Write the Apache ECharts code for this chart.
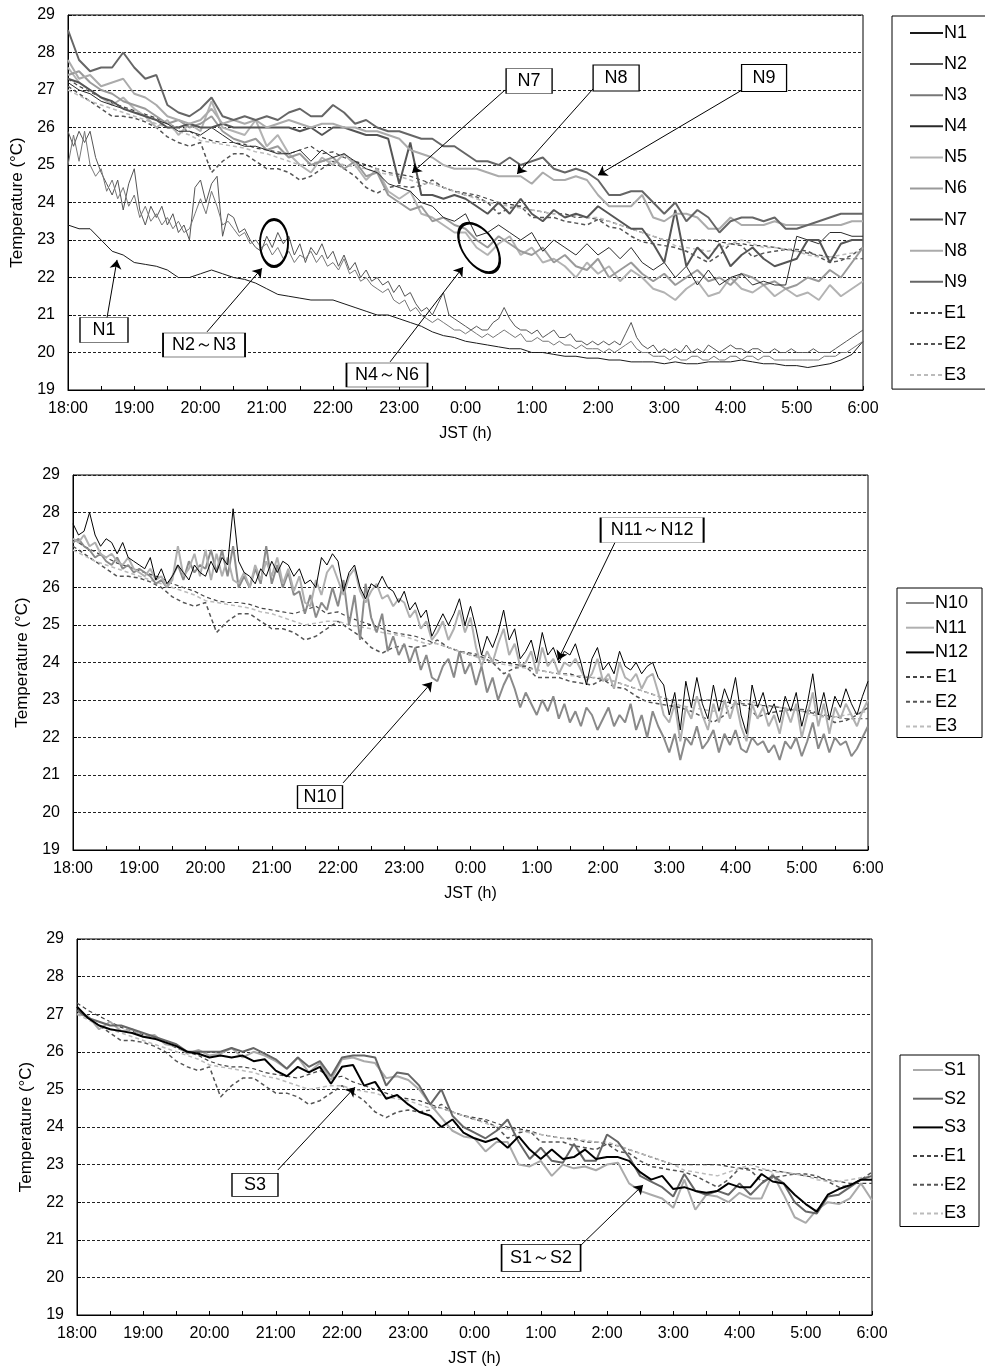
<!DOCTYPE html>
<html>
<head>
<meta charset="utf-8">
<script src="https://cdn.jsdelivr.net/npm/echarts@6.0.0/dist/echarts.min.js"></script>
<style>
html, body { margin: 0; padding: 0; background: #fff; }
#main { width: 985px; height: 1369px; }
</style>
</head>
<body>
<div id="main"></div>
<script>
// minutes after 18:00; 10-min series have 73 points, 5-min series 145
var yTicks = [19, 20, 21, 22, 23, 24, 25, 26, 27, 28, 29];

var E1 = [
  27.3, 27.1, 26.95, 26.8, 26.65, 26.55,
  26.45, 26.35, 26.25, 26.1, 26.0, 25.9,
  25.75, 25.65, 25.6, 25.6, 25.55, 25.45,
  25.4, 25.35, 25.3, 25.4, 25.5, 25.3,
  25.35, 25.2, 25.1, 25.0, 24.9, 24.8,
  24.75, 24.7, 24.6, 24.5, 24.4, 24.3,
  24.25, 24.2, 24.1, 24.0, 23.95, 23.9,
  23.8, 23.75, 23.7, 23.7, 23.6, 23.6,
  23.55, 23.5, 23.4, 23.3, 23.2, 23.1,
  23.0, 23.0, 23.0, 23.0, 23.0, 22.95,
  22.9, 22.9, 22.85, 22.85, 22.8, 22.75,
  22.7, 22.65, 22.6, 22.55, 22.5, 22.5,
  22.5];
var E2 = [
  27.1, 26.9, 26.7, 26.5, 26.3, 26.3,
  26.25, 26.15, 26.0, 25.75, 25.6, 25.5,
  25.6, 24.8, 25.1, 25.3, 25.3, 25.1,
  24.9, 24.9, 24.8, 24.6, 24.7, 24.9,
  25.1, 24.9, 24.7, 24.4, 24.25, 24.4,
  24.45, 24.4, 24.45, 24.6, 24.4, 24.3,
  24.2, 24.15, 24.0, 23.7, 23.85, 23.9,
  23.6, 23.6, 23.6, 23.5, 23.45, 23.4,
  23.55, 23.35, 23.3, 23.1, 22.95, 22.9,
  22.85, 22.8, 22.7, 22.55, 22.4, 22.6,
  22.9, 22.85, 22.55, 22.65, 22.7, 22.75,
  22.75, 22.7, 22.55, 22.4, 22.45, 22.6,
  22.8];
var E3 = [
  27.0, 26.85, 26.7, 26.6, 26.5, 26.4,
  26.3, 26.2, 26.1, 26.0, 25.9, 25.8,
  25.65, 25.6, 25.55, 25.5, 25.45, 25.35,
  25.3, 25.2, 25.1, 25.0, 25.05, 25.1,
  25.1, 25.0, 24.95, 24.9, 24.8, 24.75,
  24.7, 24.6, 24.5, 24.5, 24.4, 24.3,
  24.2, 24.1, 24.0, 23.95, 23.9, 23.85,
  23.8, 23.75, 23.7, 23.65, 23.65, 23.6,
  23.6, 23.5, 23.4, 23.3, 23.2, 23.1,
  23.0, 22.85, 22.8, 22.75, 22.7, 22.8,
  22.9, 23.0, 22.9, 22.8, 22.8, 22.75,
  22.7, 22.6, 22.55, 22.55, 22.6, 22.65,
  22.7];

var N1 = [
  23.4, 23.3, 23.3, 23.0, 22.7, 22.6,
  22.4, 22.35, 22.3, 22.2, 22.0, 22.0,
  22.1, 22.2, 22.1, 22.0, 21.95, 21.85,
  21.7, 21.55, 21.5, 21.45, 21.4, 21.4,
  21.4, 21.3, 21.2, 21.1, 21.0, 21.0,
  20.9, 20.8, 20.7, 20.55, 20.45, 20.4,
  20.3, 20.25, 20.2, 20.15, 20.1, 20.1,
  20.0, 20.0, 19.95, 19.9, 19.9, 19.85,
  19.85, 19.8, 19.8, 19.75, 19.75, 19.75,
  19.7, 19.75, 19.7, 19.7, 19.75, 19.75,
  19.75, 19.8, 19.75, 19.7, 19.7, 19.65,
  19.65, 19.6, 19.65, 19.7, 19.8, 19.95,
  20.3];
var N2 = [
  25.9, 25.5, 25.9, 25.6, 25.9, 25.2, 24.8, 24.5, 24.2, 24.6, 23.8, 24.5,
  24.9, 23.8, 23.4, 23.9, 23.6, 23.9, 23.4, 23.7, 23.2, 23.4, 23.0, 24.4,
  24.6, 24.0, 24.5, 24.7, 23.1, 23.7, 23.6, 23.2, 23.3, 23.0, 22.8, 22.7,
  23.1, 22.8, 23.2, 22.9, 23.1, 22.6, 22.9, 22.4, 22.8, 22.6, 22.9, 22.5,
  22.7, 22.3, 22.6, 22.2, 22.4, 22.0, 22.2, 21.9, 22.0, 21.8, 21.9, 21.6,
  21.8, 21.5, 21.6, 21.3, 21.1, 21.2, 21.0, 21.3, 21.6, 21.0, 20.9, 20.8,
  20.7, 20.6, 20.7, 20.6, 20.6, 20.8, 20.9, 21.2, 20.9, 20.7, 20.6, 20.6,
  20.5, 20.6, 20.4, 20.5, 20.6, 20.4, 20.4, 20.5, 20.3, 20.3, 20.2, 20.3,
  20.2, 20.3, 20.2, 20.3, 20.2, 20.5, 20.8, 20.4, 20.2, 20.1, 20.2, 20.0,
  20.1, 20.0, 20.1, 20.0, 20.2, 20.0, 20.1, 20.0, 20.2, 20.1, 20.0, 20.1,
  20.2, 20.1, 20.1, 20.0, 20.1, 20.1, 20.0, 20.0, 20.1, 20.0, 20.0, 20.1,
  20.0, 20.0, 20.0, 20.1, 20.0, 20.0, 20.0, 20.1, 20.2, 20.3, 20.4, 20.5,
  20.6];
var N3 = [
  25.0, 25.8, 25.1, 25.9, 25.0, 24.7, 24.9, 24.3, 24.6, 24.1, 24.4, 23.9,
  24.2, 23.6, 23.9, 23.5, 23.7, 23.4, 23.6, 23.3, 23.5, 23.2, 23.3, 23.7,
  24.1, 23.7, 24.3, 23.9, 23.4, 23.5, 23.3, 23.1, 23.2, 22.9, 23.0, 22.8,
  22.9, 22.6, 22.8, 22.5, 22.7, 22.4, 22.6, 22.5, 22.7, 22.4, 22.6, 22.3,
  22.4, 22.2, 22.5, 22.1, 22.2, 21.9, 22.0, 21.8, 21.7, 21.6, 21.7, 21.4,
  21.3, 21.4, 21.1, 21.2, 21.0, 20.9, 20.8, 20.9, 20.8, 20.7, 20.6, 20.6,
  20.5, 20.6, 20.5, 20.4, 20.5, 20.4, 20.5, 20.6, 20.5, 20.4, 20.5, 20.3,
  20.3, 20.4, 20.3, 20.3, 20.2, 20.3, 20.2, 20.2, 20.1, 20.2, 20.1, 20.1,
  20.1, 20.0, 20.1, 20.0, 20.1, 20.2, 20.3, 20.1, 20.0, 20.0, 19.9, 19.9,
  19.9, 19.8, 19.9, 19.8, 19.8, 19.9, 19.9, 19.8, 19.8, 19.9, 19.8, 19.8,
  19.9, 19.9, 19.8, 19.9, 19.9, 19.8, 19.9, 19.9, 19.8, 19.8, 19.8, 19.8,
  19.8, 19.8, 19.8, 19.8, 19.8, 19.9, 19.9, 19.9, 20.0, 20.0, 20.1, 20.2,
  20.3];
var N4 = [
  27.2, 27.0, 26.9, 26.7, 26.6, 26.5,
  26.4, 26.3, 26.2, 26.1, 25.9, 25.9,
  25.8, 26.0, 25.8, 25.6, 25.5, 25.5,
  25.4, 25.3, 25.3, 25.4, 25.1, 25.4,
  25.2, 25.3, 25.1, 24.9, 24.8, 24.5,
  24.4, 24.3, 24.0, 23.9, 23.6, 23.5,
  23.7, 23.1, 23.2, 23.4, 23.2, 23.0,
  23.2, 22.7, 23.0, 22.8, 22.6, 22.9,
  22.6, 22.8, 22.5, 22.8, 22.4, 22.2,
  22.4, 22.0, 22.3, 21.8, 22.2, 21.8,
  22.0, 22.1, 21.8, 21.9, 21.8, 21.8,
  23.1, 23.0, 22.9, 23.2, 23.2, 23.1,
  23.1];
var N5 = [
  27.6, 27.2, 27.0, 26.8, 26.6, 26.8,
  26.5, 26.3, 26.0, 26.2, 25.8, 26.1,
  25.9, 26.7, 26.0, 25.9, 25.8, 26.2,
  25.5, 25.8, 25.3, 25.0, 24.8, 25.2,
  25.0, 25.3, 25.0, 24.6, 24.9, 24.3,
  24.1, 24.3, 23.7, 23.6, 23.4, 23.2,
  23.2, 22.8, 22.6, 22.9, 23.1, 22.6,
  22.8, 22.4, 22.5, 22.3, 22.0, 22.4,
  22.1, 22.3, 21.9, 22.2, 22.0, 21.7,
  21.6, 21.4, 21.7, 21.9, 21.5, 21.6,
  22.0, 21.7, 21.6, 21.8, 21.5, 21.7,
  21.5, 21.6, 21.4, 21.8, 21.5, 21.7,
  21.9];
var N6 = [
  27.4, 27.5, 27.2, 27.0, 26.9, 26.7,
  26.6, 26.5, 26.3, 26.1, 26.2, 26.0,
  26.1, 26.3, 25.9, 25.7, 25.6, 25.7,
  25.4, 25.5, 25.2, 25.3, 25.0, 25.1,
  25.2, 24.9, 25.1, 24.7, 24.8, 24.2,
  24.0, 23.8, 23.9, 23.5, 23.6, 23.4,
  23.3, 23.0, 22.8, 23.1, 22.9, 22.7,
  22.6, 22.8, 22.4, 22.6, 22.3, 22.2,
  22.5, 22.0, 22.2, 22.4, 22.1, 21.9,
  22.1, 21.8, 22.0, 22.2, 21.9, 22.0,
  21.8, 22.1, 22.0, 21.8, 21.9, 21.7,
  21.8, 22.0, 21.9, 22.2, 22.0, 22.4,
  22.8];
var N7 = [
  27.3, 27.2, 27.0, 26.8, 26.7, 26.5,
  26.4, 26.3, 26.2, 26.0, 26.0, 26.1,
  26.0, 26.0, 26.1, 26.0, 26.0, 26.0,
  26.0, 26.0, 26.0, 25.9, 26.0, 25.8,
  26.0, 26.0, 25.9, 25.8, 25.8, 25.7,
  24.5, 25.6, 24.2, 24.2, 24.1, 24.2,
  24.1, 23.9, 23.7, 24.0, 23.7, 24.1,
  23.7, 23.5, 23.8, 23.6, 23.7, 23.6,
  23.9, 23.7, 23.5, 23.3, 23.3, 22.9,
  22.4, 23.8, 22.3, 22.8, 22.5, 22.9,
  22.3, 22.6, 22.8, 22.5, 22.3, 22.4,
  22.5, 23.0, 23.0, 22.4, 22.9, 23.0,
  23.0];
var N8 = [
  27.8, 27.3, 27.4, 27.1, 27.2, 27.3,
  26.9, 26.8, 26.6, 26.3, 26.2, 26.1,
  26.2, 26.5, 26.1, 26.2, 26.1, 26.2,
  26.0, 26.1, 26.2, 26.1, 26.0, 26.1,
  26.1, 26.0, 26.0, 25.9, 25.9, 25.8,
  25.7, 25.4, 25.3, 25.2, 25.0, 24.9,
  24.9, 24.9, 24.8, 24.7, 24.7, 24.7,
  24.5, 24.8, 24.6, 24.6, 24.7, 24.6,
  24.2, 23.9, 23.9, 23.9, 24.2, 23.6,
  23.5, 23.7, 23.7, 23.6, 23.3, 23.3,
  23.6, 23.4, 23.4, 23.4, 23.5, 23.4,
  23.4, 23.4, 23.4, 23.4, 23.4, 23.5,
  23.5];
var N9 = [
  28.6, 27.8, 27.5, 27.6, 27.6, 28.0,
  27.6, 27.3, 27.4, 26.6, 26.4, 26.3,
  26.5, 26.8, 26.3, 26.2, 26.3, 26.2,
  26.3, 26.2, 26.4, 26.5, 26.3, 26.3,
  26.6, 26.4, 26.1, 26.2, 26.0, 25.9,
  25.9, 25.8, 25.7, 25.7, 25.5, 25.5,
  25.3, 25.1, 25.1, 25.0, 25.2, 25.0,
  25.1, 25.2, 24.9, 24.8, 24.9, 24.8,
  24.6, 24.2, 24.2, 24.3, 24.3, 24.0,
  23.7, 24.0, 23.5, 23.8, 23.6, 23.2,
  23.5, 23.6, 23.6, 23.5, 23.6, 23.3,
  23.3, 23.4, 23.5, 23.6, 23.7, 23.7,
  23.7];

var N10 = [
  27.2, 27.3, 27.1, 27.0, 26.8, 26.9, 26.7, 26.6, 26.8, 26.5, 26.6, 26.4,
  26.5, 26.4, 26.3, 26.1, 26.2, 26.0, 26.3, 26.6, 26.2, 26.7, 26.4, 26.6,
  26.5, 27.0, 26.4, 27.0, 26.3, 27.1, 26.0, 26.3, 26.0, 26.5, 26.1, 27.1,
  26.1, 26.6, 26.0, 26.4, 25.8, 25.9, 25.3, 25.8, 25.2, 25.6, 25.4, 26.0,
  25.5, 26.2, 25.0, 25.8, 24.6, 26.1, 25.2, 24.8, 25.3, 24.3, 24.7, 24.2,
  24.5, 24.0, 24.4, 23.8, 24.2, 23.6, 23.5, 23.9, 24.1, 23.6, 24.3, 23.7,
  24.0, 23.4, 23.9, 23.2, 23.6, 23.0, 23.4, 23.7, 23.3, 22.8, 23.2, 22.9,
  22.6, 23.0, 22.7, 23.1, 22.5, 22.9, 22.4, 22.7, 22.3, 22.8, 22.6, 22.2,
  22.5, 22.8, 22.3, 22.6, 22.4, 22.9, 22.2, 22.6, 22.0, 22.7, 22.3, 22.0,
  21.6, 22.1, 21.4, 22.0, 21.8, 22.3, 21.7, 21.9, 22.2, 21.6, 22.1, 21.8,
  22.2, 21.7, 21.6, 22.0, 21.8, 21.9, 21.6, 21.8, 21.4, 21.9, 21.7, 22.0,
  21.5, 21.9, 22.4, 21.7, 22.1, 21.6, 22.0, 21.8, 21.9, 21.5, 21.7, 22.0,
  22.3];
var N11 = [
  27.3, 27.2, 27.4, 27.1, 27.2, 26.9, 26.8, 26.9, 26.7, 26.6, 26.8, 26.5,
  26.4, 26.3, 26.5, 26.2, 26.3, 26.0, 26.2, 27.1, 26.3, 26.5, 26.9, 26.3,
  27.0, 26.2, 26.9, 26.3, 26.8, 26.2, 26.1, 26.4, 26.0, 26.6, 26.2, 26.7,
  26.3, 26.8, 26.1, 26.5, 25.9, 26.3, 25.6, 25.5, 26.2, 25.8, 26.4, 26.6,
  26.2, 25.8, 26.3, 26.5, 25.9, 25.6, 25.9, 26.1, 25.7, 25.8, 25.5, 25.7,
  25.6, 25.2, 25.4, 24.9, 25.1, 24.6, 24.8, 25.1, 24.6, 24.9, 25.4, 24.8,
  25.2, 24.4, 23.9, 24.3, 24.0, 24.5, 24.9, 24.2, 24.5, 23.9, 24.0, 24.3,
  23.7, 24.4, 23.9, 24.1, 23.7, 24.0, 23.9, 24.1, 23.8, 23.5, 23.7, 24.1,
  23.5, 23.7, 23.3, 24.0, 23.6, 23.5, 23.7, 23.3, 23.6, 23.7, 23.2, 22.6,
  22.4, 22.9, 21.9, 22.8, 22.5, 23.1, 22.6, 22.2, 22.9, 22.4, 23.0, 22.5,
  23.0, 22.3, 21.9, 22.9, 22.5, 22.8, 22.3, 22.6, 22.1, 22.8, 22.4, 22.9,
  22.0, 22.6, 23.2, 22.3, 22.9, 22.1, 22.8, 22.5, 22.9, 22.6, 22.3, 22.7,
  23.0];
var N12 = [
  27.7, 27.4, 27.5, 28.0, 27.4, 27.1, 27.3, 27.2, 26.9, 27.2, 26.8, 26.7,
  26.6, 26.5, 26.8, 26.2, 26.5, 26.1, 26.3, 26.6, 26.4, 26.2, 26.6, 26.4,
  26.3, 26.7, 26.4, 26.8, 26.6, 28.1, 26.7, 26.4, 26.3, 26.1, 26.5, 26.3,
  26.7, 26.4, 26.7, 26.6, 26.3, 26.5, 26.1, 26.2, 26.0, 26.8, 26.6, 26.9,
  26.7, 25.9, 26.4, 26.6, 26.0, 25.7, 26.1, 26.0, 26.3, 26.0, 25.9, 25.6,
  25.9, 25.4, 25.6, 25.2, 25.4, 24.7, 25.0, 25.3, 25.0, 25.3, 25.7, 25.0,
  25.5, 24.9, 24.2, 24.7, 24.4, 24.8, 25.4, 24.6, 24.9, 24.1, 24.3, 24.6,
  24.0, 24.8, 24.2, 24.4, 24.0, 24.3, 24.2, 24.5, 24.0, 23.4, 24.1, 24.4,
  23.8, 24.0, 23.7, 24.3, 23.9, 23.8, 24.0, 23.7, 23.9, 24.0, 23.6, 23.4,
  22.6, 23.2, 22.2, 23.5, 22.8, 23.6, 22.9, 22.5, 23.4, 22.7, 23.3, 22.9,
  23.6, 22.6, 22.1, 23.4, 22.8, 23.2, 22.6, 22.9, 22.4, 23.1, 22.7, 23.2,
  22.3, 22.9, 23.7, 22.6, 23.2, 22.5, 23.1, 22.8, 23.3, 22.9, 22.6, 23.1,
  23.5];

var S1 = [
  27.0, 26.95, 26.6, 26.8, 26.55, 26.6,
  26.4, 26.45, 26.2, 26.15, 25.95, 26.05,
  25.9, 25.95, 26.1, 25.85, 26.0, 25.9,
  25.75, 25.55, 25.85, 25.45, 25.7, 25.25,
  25.8, 25.85, 25.75, 25.7, 25.3, 25.35,
  25.25, 25.0, 24.6, 24.25, 23.9, 23.75,
  23.7, 23.35, 23.6, 23.6, 23.0, 22.95,
  23.1, 22.7, 23.0, 22.9, 22.95, 22.85,
  23.0, 23.05, 22.5, 22.3, 22.2, 22.1,
  21.85, 22.6, 21.8, 22.2, 22.15, 22.0,
  22.25, 22.1, 22.1, 22.75, 22.2, 21.6,
  21.45, 21.8, 22.0, 21.95, 22.1, 22.5,
  22.05];
var S2 = [
  27.1, 26.9, 26.8, 26.7, 26.7, 26.6,
  26.5, 26.4, 26.3, 26.2, 26.0, 26.0,
  26.0, 26.0, 26.1, 26.0, 26.1, 25.95,
  25.8, 25.55, 25.85, 25.6, 25.75, 25.35,
  25.85, 25.9, 25.9, 25.85, 25.1, 25.45,
  25.4, 25.1, 24.6, 25.0, 24.3, 24.0,
  23.85, 23.7, 23.9, 24.2, 23.6, 23.15,
  23.45, 23.1, 23.05, 23.55, 23.1, 23.1,
  23.8, 23.6, 23.2, 22.7, 22.55, 22.4,
  22.15, 22.75, 22.3, 22.2, 22.3, 22.2,
  22.5, 22.2, 22.5, 22.7, 22.5, 22.0,
  21.75, 21.7, 22.15, 22.2, 22.4, 22.6,
  22.7];
var S3 = [
  27.2, 26.9, 26.7, 26.6, 26.55, 26.5,
  26.4, 26.35, 26.25, 26.15, 26.0, 25.95,
  25.85, 25.9, 25.85, 25.9, 25.75, 25.8,
  25.5, 25.35, 25.6, 25.45, 25.6, 25.15,
  25.6, 25.65, 25.1, 25.2, 24.75, 24.85,
  24.6, 24.4, 24.3, 24.0, 24.2, 23.85,
  23.7, 23.6, 23.7, 23.45, 23.75, 23.4,
  23.15, 23.4, 23.15, 23.2, 23.4, 23.15,
  23.2, 23.2, 23.1, 22.8, 22.6, 22.7,
  22.35, 22.4, 22.3, 22.25, 22.3, 22.5,
  22.4, 22.4, 22.75, 22.55, 22.5, 22.2,
  21.95, 21.75, 22.2, 22.35, 22.45, 22.6,
  22.6];

var FONT = "'Liberation Sans', Arial, sans-serif";
var myChart = echarts.init(document.getElementById('main'), null, {renderer: 'canvas'});

function mkLine(name, arr, step, gi, color, width, dashed, z) {
    return {
        name: name,
        type: 'line',
        xAxisIndex: gi,
        yAxisIndex: gi,
        data: arr.map(function (v, i) { return [i * step, v]; }),
        symbol: 'none',
        silent: true,
        z: z || 2,
        lineStyle: {color: color, width: width, type: dashed ? [4, 3] : 'solid'},
        itemStyle: {color: color}
    };
}

// annotation boxes/arrows/ellipses in data coordinates (min after 18:00, degC)
function mkNotes(gi, boxes, arrows, rings) {
    var pts = boxes.map(function (b) {
        return {
            coord: b.at, symbol: 'rect', symbolSize: b.size,
            itemStyle: {color: '#fff', borderColor: '#000', borderWidth: 1},
            label: {show: true, position: 'inside', formatter: b.text, color: '#000', fontSize: 18, fontFamily: FONT}
        };
    });
    rings.forEach(function (r) {
        pts.push({
            coord: r.at, symbol: 'circle', symbolSize: r.size, symbolRotate: r.rot,
            itemStyle: {color: 'rgba(0,0,0,0)', borderColor: '#000', borderWidth: 2.5},
            label: {show: false}
        });
    });
    return {
        name: 'notes' + gi,
        type: 'line',
        xAxisIndex: gi,
        yAxisIndex: gi,
        data: [],
        silent: true,
        z: 10,
        markLine: {
            silent: true,
            animation: false,
            symbol: ['none', 'arrow'],
            symbolSize: 9,
            label: {show: false},
            lineStyle: {color: '#000', width: 1, type: 'solid'},
            emphasis: {disabled: true},
            data: arrows.map(function (a) { return [{coord: a[0]}, {coord: a[1]}]; })
        },
        markPoint: {
            silent: true,
            animation: false,
            emphasis: {disabled: true},
            data: pts
        }
    };
}

var grids = [
    {left: 68, top: 15, width: 795, height: 375},
    {left: 73, top: 475, width: 795, height: 375},
    {left: 77, top: 939, width: 795, height: 376}
];

var xAxes = [], yAxes = [];
grids.forEach(function (g, i) {
    g.show = true;
    g.borderColor = '#000';
    g.borderWidth = 1;
    g.backgroundColor = 'transparent';
    xAxes.push({
        type: 'value', gridIndex: i, min: 0, max: 720, interval: 30,
        name: 'JST (h)', nameLocation: 'middle', nameGap: 36,
        nameTextStyle: {color: '#000', fontSize: 16, fontFamily: FONT},
        axisLine: {lineStyle: {color: '#000', width: 1}},
        axisTick: {inside: true, length: 4, lineStyle: {color: '#000'}},
        axisLabel: {
            color: '#000', fontSize: 16, fontFamily: FONT, margin: 11,
            formatter: function (v) { return v % 60 ? '' : ((18 + v / 60) % 24) + ':00'; }
        },
        splitLine: {show: false}
    });
    yAxes.push({
        type: 'value', gridIndex: i, min: yTicks[0], max: yTicks[yTicks.length - 1], interval: 1,
        name: 'Temperature (\u00B0C)', nameLocation: 'middle', nameGap: 37,
        nameTextStyle: {color: '#000', fontSize: 17, fontFamily: FONT},
        axisLine: {show: true, lineStyle: {color: '#000', width: 1}},
        axisTick: {show: true, inside: true, length: 4, lineStyle: {color: '#000'}},
        axisLabel: {color: '#000', fontSize: 16, fontFamily: FONT, margin: 13},
        splitLine: {show: true, lineStyle: {color: '#222', width: 1, type: [3, 2]}}
    });
});

function mkLegend(names, left, top, pad, itemW, gap) {
    return {
        orient: 'vertical', left: left, top: top, padding: pad,
        itemWidth: itemW, itemHeight: 14, itemGap: gap,
        borderColor: '#000', borderWidth: 1, backgroundColor: '#fff',
        selectedMode: false,
        itemStyle: {opacity: 0},
        textStyle: {color: '#000', fontSize: 18, lineHeight: 18, fontFamily: FONT, padding: [0, 0, 0, -4]},
        data: names
    };
}

var series = [
    // panel 1
    mkLine('N1', N1, 10, 0, '#1a1a1a', 1),
    mkLine('N2', N2, 5, 0, '#555', 1),
    mkLine('N3', N3, 5, 0, '#777', 1),
    mkLine('E1', E1, 10, 0, '#444', 1.2, true),
    mkLine('E2', E2, 10, 0, '#555', 1.5, true),
    mkLine('E3', E3, 10, 0, '#bbb', 1.5, true),
    mkLine('N5', N5, 10, 0, '#b3b3b3', 2),
    mkLine('N6', N6, 10, 0, '#9a9a9a', 2),
    mkLine('N4', N4, 10, 0, '#2a2a2a', 1),
    mkLine('N7', N7, 10, 0, '#555', 2),
    mkLine('N8', N8, 10, 0, '#ababab', 2),
    mkLine('N9', N9, 10, 0, '#666', 2),
    mkNotes(0, [
        {text: 'N1', at: [32.6, 20.6], size: [48, 25]},
        {text: 'N2\uFF5EN3', at: [123.2, 20.2], size: [82, 24]},
        {text: 'N4\uFF5EN6', at: [288.9, 19.4], size: [81, 24]},
        {text: 'N7', at: [417.6, 27.24], size: [46, 25]},
        {text: 'N8', at: [496.4, 27.32], size: [46, 26]},
        {text: 'N9', at: [630.4, 27.32], size: [45, 27]}
    ], [
        [[35.3, 20.92], [44.4, 22.47]],
        [[125.9, 20.55], [175.7, 22.25]],
        [[291.7, 19.75], [357.8, 22.28]],
        [[395.8, 27.0], [311.6, 24.79]],
        [[475.5, 27.03], [406.7, 24.76]],
        [[610.5, 27.0], [480, 24.73]]
    ], [
        {at: [186.6, 22.92], size: [28, 47], rot: 0},
        {at: [372.3, 22.79], size: [32, 56], rot: 35}
    ]),
    // panel 2
    mkLine('E1', E1, 10, 1, '#444', 1.2, true),
    mkLine('E2', E2, 10, 1, '#555', 1.5, true),
    mkLine('E3', E3, 10, 1, '#bbb', 1.5, true),
    mkLine('N10', N10, 5, 1, '#8a8a8a', 2),
    mkLine('N11', N11, 5, 1, '#b0b0b0', 2),
    mkLine('N12', N12, 5, 1, '#000', 1),
    mkNotes(1, [
        {text: 'N10', at: [223.7, 20.41], size: [45, 23]},
        {text: 'N11\uFF5EN12', at: [524.5, 27.53], size: [103, 25]}
    ], [
        [[244.6, 20.79], [325.2, 23.48]],
        [[491, 27.21], [439.3, 24.07]]
    ], []),
    // panel 3
    mkLine('E1', E1, 10, 2, '#444', 1.2, true),
    mkLine('E2', E2, 10, 2, '#555', 1.5, true),
    mkLine('E3', E3, 10, 2, '#bbb', 1.5, true),
    mkLine('S1', S1, 10, 2, '#aaa', 2),
    mkLine('S2', S2, 10, 2, '#666', 2),
    mkLine('S3', S3, 10, 2, '#000', 2),
    mkNotes(2, [
        {text: 'S3', at: [161.2, 22.46], size: [46, 23]},
        {text: 'S1\uFF5ES2', at: [420.3, 20.52], size: [79, 27]}
    ], [
        [[182, 22.86], [251.8, 25.06]],
        [[456.5, 20.86], [512.7, 22.46]]
    ], [])
];

myChart.setOption({
    animation: false,
    backgroundColor: '#fff',
    textStyle: {fontFamily: FONT},
    grid: grids,
    xAxis: xAxes,
    yAxis: yAxes,
    legend: [
        mkLegend(['N1', 'N2', 'N3', 'N4', 'N5', 'N6', 'N7', 'N8', 'N9', 'E1', 'E2', 'E3'], 892, 16, [8, 24, 5, 17], 33, 13.1),
        mkLegend(['N10', 'N11', 'N12', 'E1', 'E2', 'E3'], 897, 588, [6, 14, 2, 8], 28, 6.7),
        mkLegend(['S1', 'S2', 'S3', 'E1', 'E2', 'E3'], 900, 1055, [6, 13, 4, 12], 30, 10.7)
    ],
    series: series
});
</script>
</body>
</html>
